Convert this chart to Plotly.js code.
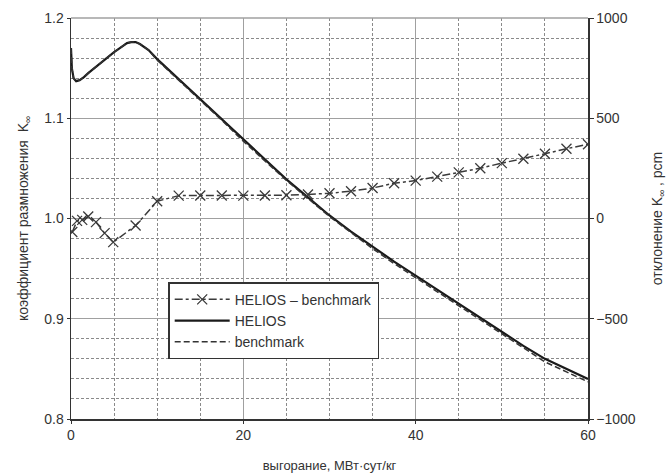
<!DOCTYPE html>
<html>
<head>
<meta charset="utf-8">
<script src="https://cdn.plot.ly/plotly-3.0.1.min.js"></script>
<style>html,body{margin:0;padding:0;background:#fff;}#chart{width:667px;height:476px;}</style>
</head>
<body>
<div id="chart"></div>
<script>
// burnup, MWd/kg
const burnupK = [0, 0.1, 0.3, 0.6, 1, 1.5, 2, 3, 4, 5, 6, 6.5, 7, 7.5, 8, 9, 10, 12.5, 15, 17.5, 20, 22.5, 25, 27.5, 30, 32.5, 35, 37.5, 40, 42.5, 45, 47.5, 50, 52.5, 55, 57.5, 60];
const kHelios = [1.170, 1.150, 1.140, 1.137, 1.138, 1.141, 1.145, 1.152, 1.159, 1.166, 1.172, 1.175, 1.176, 1.176, 1.174, 1.168, 1.159, 1.139, 1.119, 1.099, 1.078, 1.058, 1.039, 1.021, 1.003, 0.987, 0.972, 0.957, 0.943, 0.929, 0.915, 0.901, 0.887, 0.873, 0.860, 0.850, 0.840];
const kBench  = [1.170, 1.150, 1.140, 1.137, 1.138, 1.141, 1.145, 1.152, 1.159, 1.166, 1.172, 1.175, 1.176, 1.176, 1.174, 1.168, 1.158, 1.138, 1.118, 1.098, 1.077, 1.057, 1.038, 1.020, 1.002, 0.986, 0.970, 0.955, 0.941, 0.927, 0.913, 0.899, 0.885, 0.871, 0.857, 0.847, 0.837];
const burnupDev = [0.15, 0.7, 1.3, 2.0, 2.9, 3.9, 4.9, 7.5, 10, 12.5, 15, 17.5, 20, 22.5, 25, 27.5, 30, 32.5, 35, 37.5, 40, 42.5, 45, 47.5, 50, 52.5, 55, 57.5, 60];
const devPcm = [-67, -12, -7, 10, -18, -73, -118, -35, 86, 114, 115, 115, 114, 115, 116, 120, 126, 136, 152, 176, 189, 209, 230, 251, 276, 298, 323, 348, 370];
const names = ["HELIOS \u2013 benchmark", "HELIOS", "benchmark"];

const font = {family: "Liberation Sans, Arial, sans-serif", size: 14, color: "#333"};
const gridC = "#a0a0a0";
const minorC = "#8a8a8a";

const traces = [
  {x: burnupDev, y: devPcm, yaxis: "y2", name: names[0], mode: "lines+markers",
   line: {color: "#3a3a3a", width: 1.5, dash: "8px,3px,3px,3px"},
   marker: {symbol: "x-thin-open", size: 10, line: {color: "#3a3a3a", width: 1.3}}},
  {x: burnupK, y: kHelios, name: names[1], mode: "lines",
   line: {color: "#1a1a1a", width: 2.2}},
  {x: burnupK, y: kBench, name: names[2], mode: "lines",
   line: {color: "#333", width: 1.5, dash: "6px,3px"}}
];

const layout = {
  width: 667, height: 476,
  margin: {l: 70.5, r: 78.5, t: 17.5, b: 57},
  paper_bgcolor: "#fff", plot_bgcolor: "#fff",
  font: font,
  showlegend: true,
  legend: {x: 0.188, y: 0.341, xanchor: "left", yanchor: "top",
    bgcolor: "#fff", bordercolor: "#333", borderwidth: 1.5,
    itemwidth: 55,
    font: {family: "Liberation Sans, Arial, sans-serif", size: 14, color: "#333"},
    tracegroupgap: 0},
  xaxis: {range: [0, 60], dtick: 20, tick0: 0, tickmode: "linear",
    showline: true, linecolor: "#333", linewidth: 1.5,
    showgrid: true, gridcolor: gridC, gridwidth: 1.2,
    ticks: "outside", ticklen: 3, tickcolor: "#333",
    zeroline: false,
    minor: {tickmode: "linear", tick0: 0, dtick: 5, showgrid: true, gridcolor: minorC, griddash: "3px,2px", gridwidth: 1},
    title: {text: "выгорание, МВт·сут/кг", font: {size: 13}, standoff: 18}},
  yaxis: {range: [0.8, 1.2], dtick: 0.1, tick0: 0.8, tickmode: "linear", tickformat: ".1f",
    showline: true, linecolor: "#333", linewidth: 1.5,
    showgrid: true, gridcolor: gridC, gridwidth: 1.2,
    ticks: "outside", ticklen: 3, tickcolor: "#333",
    zeroline: false,
    minor: {tickmode: "linear", tick0: 0.8, dtick: 0.02, showgrid: true, gridcolor: minorC, griddash: "3px,2px", gridwidth: 1},
    title: {text: "коэффициент размножения  K<sub>∞</sub>", font: {size: 14}, standoff: 12}},
  yaxis2: {range: [-1000, 1000], dtick: 500, tick0: 0, tickmode: "linear", overlaying: "y", side: "right",
    showline: true, linecolor: "#333", linewidth: 1.5,
    showgrid: false, zeroline: false,
    ticks: "outside", ticklen: 4, tickcolor: "#333",
    title: {text: "отклонение K<sub>∞</sub> , pcm", font: {size: 14}, standoff: 20}},
  shapes: [
    {type: "line", xref: "paper", yref: "paper", x0: 0, x1: 1, y0: 1, y1: 1,
     line: {color: gridC, width: 1.5}}
  ]
};

Plotly.newPlot("chart", traces, layout, {displayModeBar: false, staticPlot: true});
</script>
</body>
</html>
